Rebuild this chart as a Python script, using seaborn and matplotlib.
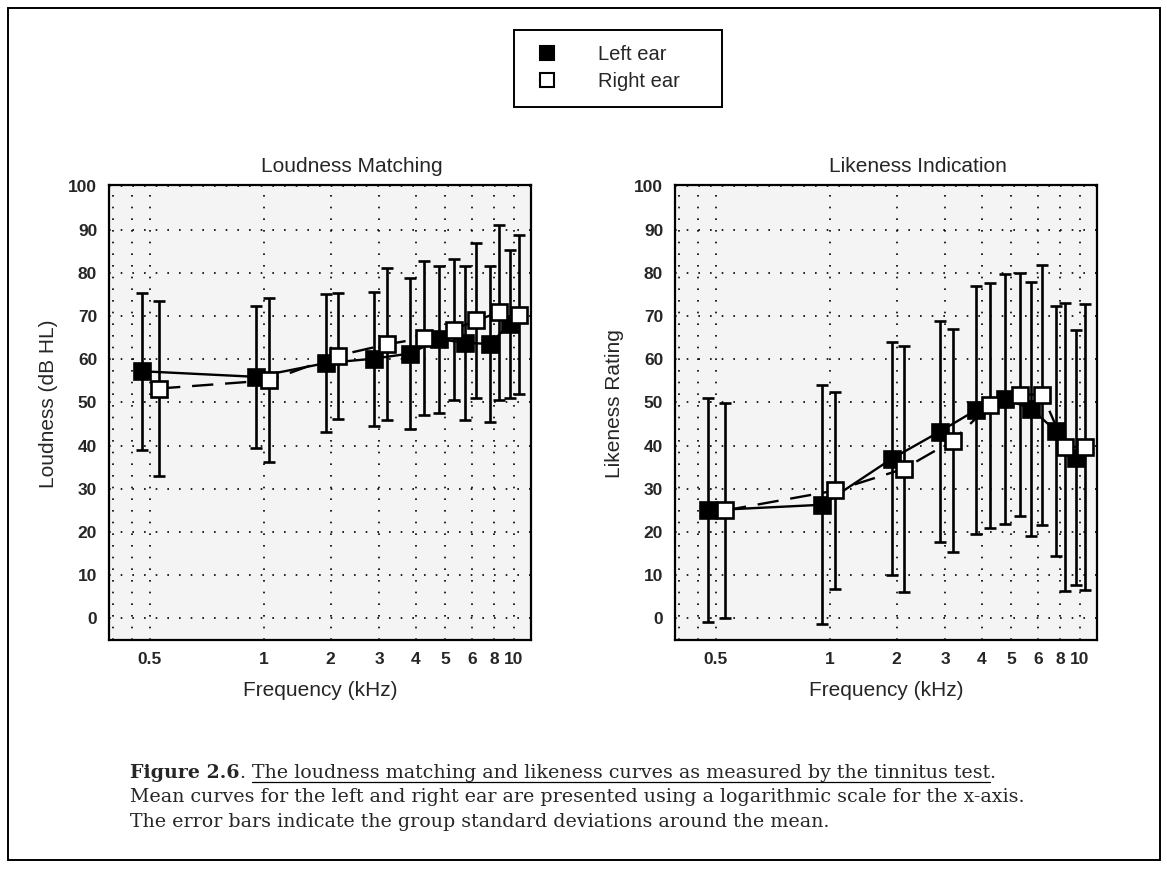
import numpy as np
import pandas as pd
import matplotlib
matplotlib.use("Agg")
import matplotlib.pyplot as plt
from matplotlib.lines import Line2D
from matplotlib.patches import Rectangle
import seaborn as sns

# ---------------------------------------------------------------- data
freqs = [0.5, 1, 2, 3, 4, 5, 6, 8, 10]          # kHz
freq_labels = ["0.5", "1", "2", "3", "4", "5", "6", "8", "10"]

loud_left_mean = [57.2, 55.9, 59.1, 60.1, 61.3, 64.6, 63.8, 63.5, 68.2]
loud_left_sd = [18.2, 16.4, 15.9, 15.5, 17.5, 17.0, 17.8, 18.0, 17.1]
loud_right_mean = [53.2, 55.1, 60.8, 63.4, 64.9, 66.8, 69.0, 70.8, 70.3]
loud_right_sd = [20.3, 19.0, 14.6, 17.6, 17.9, 16.3, 17.9, 20.3, 18.4]

like_left_mean = [25.0, 26.3, 37.0, 43.2, 48.2, 50.8, 48.5, 43.3, 37.2]
like_left_sd = [25.9, 27.6, 26.9, 25.6, 28.7, 29.0, 29.4, 28.9, 29.5]
like_right_mean = [25.0, 29.6, 34.6, 41.1, 49.3, 51.8, 51.8, 39.7, 39.7]
like_right_sd = [24.8, 22.9, 28.5, 25.8, 28.3, 28.1, 30.1, 33.3, 33.1]

y_ticks = list(range(0, 101, 10))

# ---------------------------------------------------- frequency axis scale
# warped logarithmic frequency axis: breakpoints (kHz) and their place
# along the axis (0 = left edge, 1 = right edge)
scale_freq = [0.391, 0.5, 1, 2, 3, 4, 5, 6, 8, 10, 12.15]
scale_pos = [0.0, 0.096, 0.367, 0.525, 0.64, 0.727, 0.797, 0.86, 0.912, 0.959, 1.0]
_lf = np.log10(scale_freq)
_ps = np.array(scale_pos)
_sl0 = (_ps[1] - _ps[0]) / (_lf[1] - _lf[0])
_sl1 = (_ps[-1] - _ps[-2]) / (_lf[-1] - _lf[-2])


def freq_forward(f):
    lf = np.log10(np.clip(np.asarray(f, dtype=float), 1e-9, None))
    out = np.interp(lf, _lf, _ps)
    out = np.where(lf < _lf[0], _ps[0] + (lf - _lf[0]) * _sl0, out)
    out = np.where(lf > _lf[-1], _ps[-1] + (lf - _lf[-1]) * _sl1, out)
    return out


def freq_inverse(u):
    u = np.asarray(u, dtype=float)
    lf = np.interp(u, _ps, _lf)
    lf = np.where(u < _ps[0], _lf[0] + (u - _ps[0]) / _sl0, lf)
    lf = np.where(u > _ps[-1], _lf[-1] + (u - _ps[-1]) / _sl1, lf)
    return 10 ** lf


# left / right ear points are nudged apart around each frequency
dodge_left, dodge_right = 0.955, 1.06

# ---------------------------------------------------------------- style
sns.set_style("white")
plt.rcParams["font.family"] = ["Liberation Sans", "DejaVu Sans"]
plt.rcParams["axes.linewidth"] = 1.6

W, H = 1167, 869
fig = plt.figure(figsize=(W / 100, H / 100), dpi=100)

panels = [
    dict(rect=[109 / W, 1 - 640 / H, 422 / W, 455 / H],
         title="Loudness Matching", ylabel="Loudness (dB HL)",
         left=(loud_left_mean, loud_left_sd), right=(loud_right_mean, loud_right_sd)),
    dict(rect=[675 / W, 1 - 640 / H, 422 / W, 455 / H],
         title="Likeness Indication", ylabel="Likeness Rating",
         left=(like_left_mean, like_left_sd), right=(like_right_mean, like_right_sd)),
]

grid_style = dict(color="black", linewidth=1.2, linestyle=(0, (1.0, 6.0)))

for p in panels:
    ax = fig.add_axes(p["rect"])
    ax.set_facecolor("#f4f4f4")
    ax.set_xscale("function", functions=(freq_forward, freq_inverse))

    for (mean, sd), dodge, face, ls in [
        (p["left"], dodge_left, "black", "-"),
        (p["right"], dodge_right, "white", (0, (9, 5))),
    ]:
        df = pd.DataFrame({"freq": np.array(freqs) * dodge,
                           "mean": mean, "sd": sd})
        ax.errorbar(df["freq"], df["mean"], yerr=df["sd"], fmt="none",
                    ecolor="black", elinewidth=1.9, capsize=4.5,
                    capthick=1.9, zorder=3)
        sns.lineplot(data=df, x="freq", y="mean", ax=ax, color="black",
                     linewidth=1.7, linestyle=ls, marker="s", markersize=11.5,
                     markerfacecolor=face, markeredgecolor="black",
                     markeredgewidth=1.9, estimator=None, sort=False,
                     legend=False, zorder=4)

    ax.set_xlim(scale_freq[0], scale_freq[-1])
    ax.set_ylim(-5, 100.3)
    ax.set_xticks(freqs)
    ax.set_xticklabels(freq_labels)
    ax.set_xticks([0.4, 0.45], minor=True)
    ax.set_yticks(y_ticks)
    ax.tick_params(axis="both", which="both", length=0, labelsize=12.5, pad=8.5)
    for lab in ax.get_xticklabels() + ax.get_yticklabels():
        lab.set_fontweight("bold")
    ax.grid(True, which="major", axis="both", **grid_style)
    ax.grid(True, which="minor", axis="x", **grid_style)
    ax.set_axisbelow(True)
    for s in ax.spines.values():
        s.set_color("black")
        s.set_linewidth(1.6)
    ax.set_title(p["title"], fontsize=15, pad=9, x=0.575)
    ax.set_ylabel(p["ylabel"], fontsize=15)
    ax.yaxis.set_label_coords(-0.12, 0.52)
    ax.set_xlabel("Frequency (kHz)", fontsize=15, labelpad=10)

# ---------------------------------------------------------------- legend
handles = [
    Line2D([], [], linestyle="none", marker="s", markersize=10,
           markerfacecolor="black", markeredgecolor="black", markeredgewidth=1.5),
    Line2D([], [], linestyle="none", marker="s", markersize=10,
           markerfacecolor="white", markeredgecolor="black", markeredgewidth=1.5),
]
leg = fig.legend(handles, ["Left ear", "Right ear"], loc="center left",
                 bbox_to_anchor=(537 / W, 1 - 68 / H), fontsize=14.5,
                 frameon=False, handletextpad=2.05, borderpad=0,
                 labelspacing=0.38, handlelength=1.0, borderaxespad=0)
fig.add_artist(Rectangle((514 / W, 1 - 107 / H), 208 / W, 77 / H,
                         transform=fig.transFigure, fill=False,
                         edgecolor="black", linewidth=1.4))

# ---------------------------------------------------------------- caption
cap_size = 13.7
cap_font = dict(family=["DejaVu Serif"], fontsize=cap_size)
x0 = 130 / W
base1 = 1 - 778 / H
line_gap = 24.5 / H

fig.canvas.draw()
renderer = fig.canvas.get_renderer()


def put(x, y, s, **kw):
    t = fig.text(x, y, s, va="baseline", ha="left", **cap_font, **kw)
    bb = t.get_window_extent(renderer)
    return t, bb


_, bb = put(x0, base1, "Figure 2.6", fontweight="bold")
_, bb = put(bb.x1 / W, base1, ".")
space = 0.32 * cap_size * 100 / 72
_, bb_u = put((bb.x1 + space) / W, base1,
              "The loudness matching and likeness curves as measured by the tinnitus test")
fig.add_artist(Line2D([bb_u.x0 / W, bb_u.x1 / W], [base1 - 3.5 / H, base1 - 3.5 / H],
                      transform=fig.transFigure, color="black", linewidth=0.9))
put(bb_u.x1 / W, base1, ".")
put(x0, base1 - line_gap,
    "Mean curves for the left and right ear are presented using a logarithmic scale for the x-axis.")
put(x0, base1 - 2 * line_gap,
    "The error bars indicate the group standard deviations around the mean.")

# ---------------------------------------------------------------- frame
fig.add_artist(Rectangle((8 / W, 9 / H), 1152 / W, 852 / H, transform=fig.transFigure,
                         fill=False, edgecolor="black", linewidth=1.4))

fig.savefig("out.png", dpi=100)
